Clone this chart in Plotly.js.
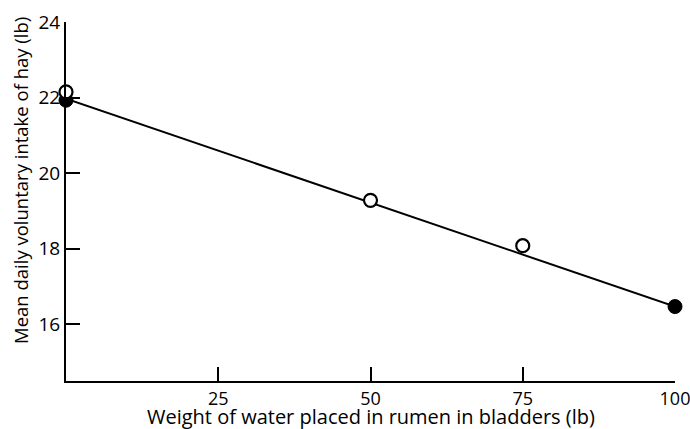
<!DOCTYPE html>
<html><head><meta charset="utf-8">
<script src="https://cdn.plot.ly/plotly-3.0.1.min.js"></script>
<style>html,body{margin:0;padding:0;background:#fff}#c{width:690px;height:429px}</style>
</head><body><div id="c"></div>
<script>
var openX = [0, 50, 75];
var openY = [22.15, 19.28, 18.08];
var filledX = [0, 100];
var filledY = [21.93, 16.47];
var fitX = [0, 100];
var fitY = [21.97, 16.47];
var xTicks = [25, 50, 75, 100];
var yTicks = [16, 18, 20, 22, 24];

var F = '"Open Sans", sans-serif';
var traces = [
  {x: fitX, y: fitY, mode: 'lines', line: {color: '#000', width: 2}, hoverinfo: 'skip', cliponaxis: false},
  {x: filledX, y: filledY, mode: 'markers', marker: {symbol: 'circle', size: 14, color: '#000', line: {color: '#000', width: 1}}, cliponaxis: false},
  {x: openX, y: openY, mode: 'markers', marker: {symbol: 'circle', size: 13, color: '#fff', line: {color: '#000', width: 2.2}}, cliponaxis: false}
];
var layout = {
  width: 690, height: 429,
  margin: {l: 66, r: 15, t: 22, b: 48},
  paper_bgcolor: '#fff', plot_bgcolor: '#fff',
  showlegend: false,
  font: {family: F, color: '#000', size: 19},
  xaxis: {range: [0, 100], tickmode: 'array', tickvals: xTicks, ticktext: xTicks.map(String), ticks: 'inside', ticklen: 14, tickwidth: 2, tickcolor: '#000',
          showline: true, linecolor: '#000', linewidth: 2, showgrid: false, zeroline: false, tickfont: {size: 18, family: F},
          ticklabeloverflow: 'allow', automargin: false},
  yaxis: {range: [14.5, 24], tickmode: 'array', tickvals: yTicks, ticktext: yTicks.map(String), ticks: 'inside', ticklen: 14, tickwidth: 2, tickcolor: '#000',
          showline: true, linecolor: '#000', linewidth: 2, showgrid: false, zeroline: false, tickfont: {size: 19, family: F}, automargin: false},
  annotations: [
    {text: 'Weight of water placed in rumen in bladders (lb)', xref: 'paper', yref: 'paper', x: 0.5, y: (381-416)/359, xanchor: 'center', yanchor: 'middle', showarrow: false, font: {size: 20, family: F}},
    {text: 'Mean daily voluntary intake of hay (lb)', xref: 'paper', yref: 'paper', x: (20-66)/609, y: (381-181)/359, xanchor: 'center', yanchor: 'middle', textangle: -90, showarrow: false, font: {size: 18.5, family: F}}
  ]
};
Plotly.newPlot('c', traces, layout, {staticPlot: true});
</script></body></html>
